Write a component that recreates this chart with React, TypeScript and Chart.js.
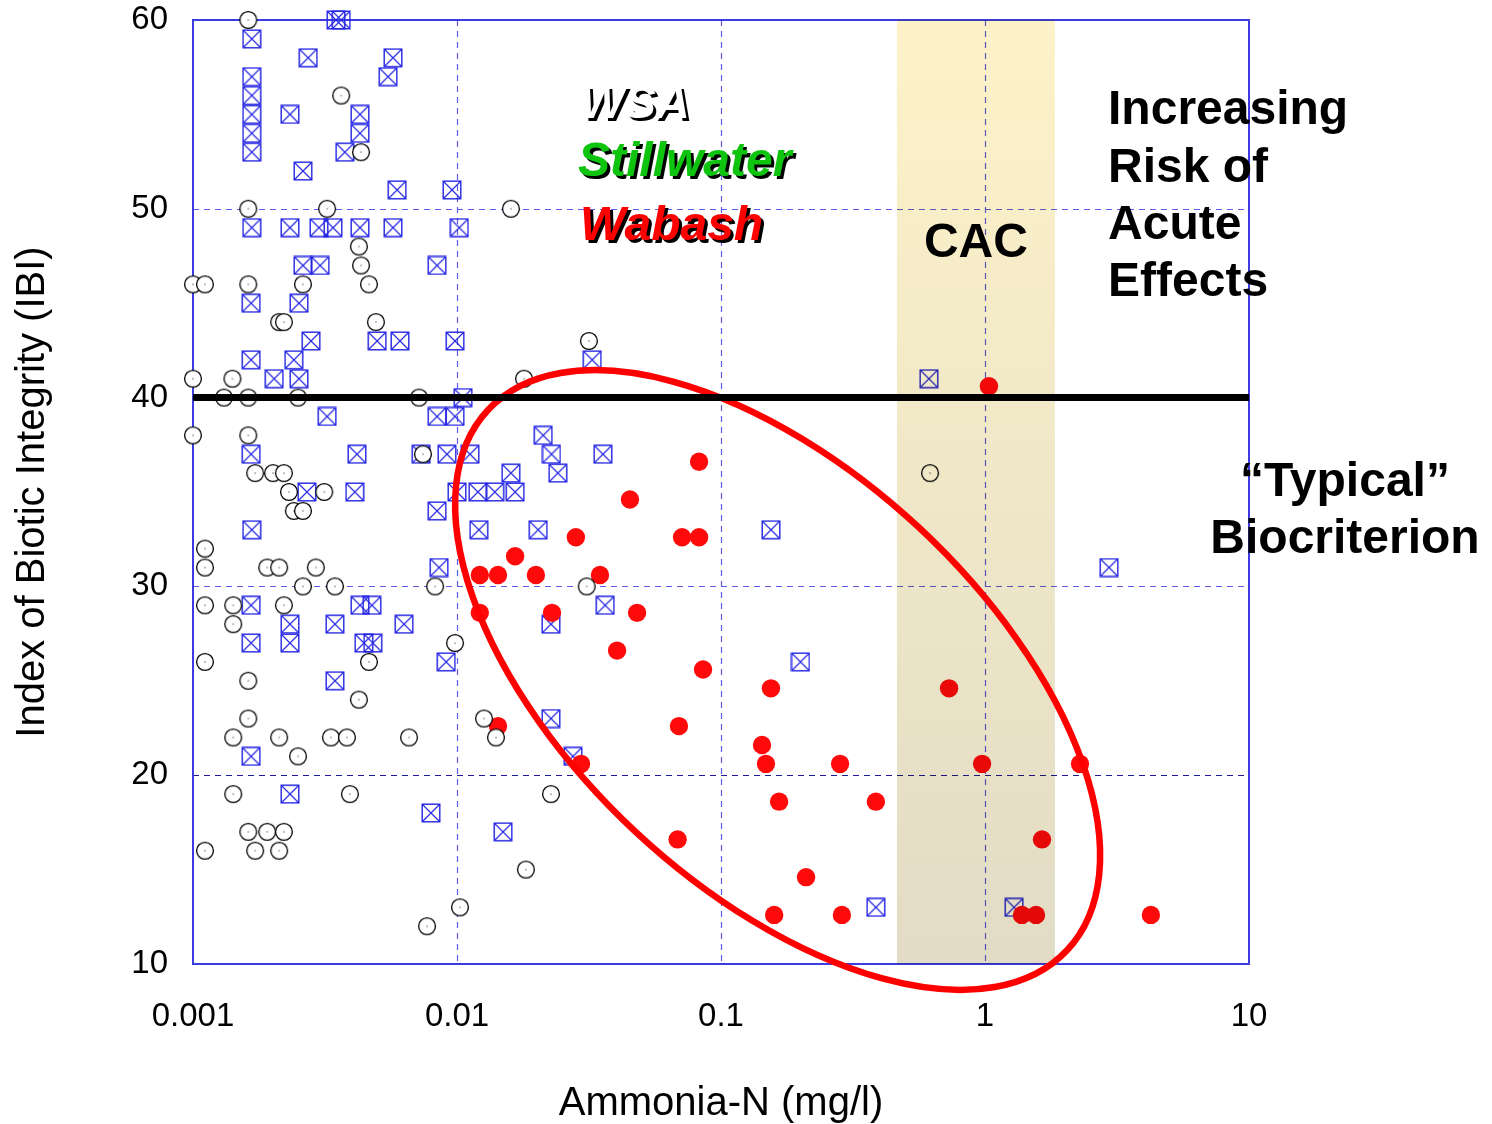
import React, { useEffect, useRef } from "react";
import { Chart, registerables } from "chart.js";
Chart.register(...registerables);

// ---- axes ----
const xTicks = [0.001, 0.01, 0.1, 1, 10];
const xTickLabels = ["0.001", "0.01", "0.1", "1", "10"];
const yTicks = [10, 20, 30, 40, 50, 60];

// ---- WSA (open circles) ----
const wsaX = [
  0.00162, 0.00364, 0.00433, 0.00162, 0.00322, 0.016, 0.00425, 0.00433, 0.001, 0.00111,
  0.00162, 0.00261, 0.00464, 0.00212, 0.00221, 0.00493, 0.0316, 0.001, 0.00141, 0.01794,
  0.00131, 0.00162, 0.0025, 0.00718, 0.001, 0.00162, 0.00743, 0.00172, 0.00201, 0.00221,
  0.619, 0.00231, 0.00314, 0.00241, 0.00261, 0.00111, 0.00111, 0.00191, 0.00212, 0.00292,
  0.00261, 0.00345, 0.00826, 0.031, 0.00111, 0.00142, 0.00221, 0.00142, 0.00983, 0.00111,
  0.00464, 0.00162, 0.00425, 0.00162, 0.01266, 0.00142, 0.00212, 0.00333, 0.00383, 0.00658,
  0.01405, 0.0025, 0.00142, 0.00393, 0.0227, 0.00162, 0.00191, 0.00221, 0.00111, 0.00172,
  0.00212, 0.01824, 0.01026, 0.0077,
];
const wsaY = [
  60, 56, 53, 50, 50, 50, 48, 47, 46, 46,
  46, 46, 46, 44, 44, 44, 43, 41, 41, 41,
  40, 40, 40, 40, 38, 38, 37, 36, 36, 36,
  36, 35, 35, 34, 34, 32, 31, 31, 31, 31,
  30, 30, 30, 30, 29, 29, 29, 28, 27, 26,
  26, 25, 24, 23, 23, 22, 22, 22, 22, 22,
  22, 21, 19, 19, 19, 17, 17, 17, 16, 16,
  16, 15, 13, 12,
];

// ---- Stillwater (crossed squares) ----
const stillX = [
  0.00348, 0.00364, 0.00167, 0.00273, 0.00572, 0.00167, 0.00548, 0.00167, 0.00167, 0.00233,
  0.00429, 0.00167, 0.00429, 0.00167, 0.00376, 0.00261, 0.00593, 0.00957, 0.00167, 0.00233,
  0.003, 0.00339, 0.00429, 0.00572, 0.0102, 0.00261, 0.00303, 0.0084, 0.00166, 0.00252,
  0.0028, 0.00498, 0.00608, 0.00983, 0.00166, 0.00241, 0.0325, 0.00203, 0.00252, 0.613,
  0.01054, 0.00322, 0.0084, 0.00983, 0.0212, 0.00166, 0.00418, 0.00731, 0.00916, 0.0112,
  0.0228, 0.0357, 0.016, 0.0241, 0.0027, 0.0041, 0.01, 0.012, 0.0139, 0.0166,
  0.0084, 0.00167, 0.0121, 0.0203, 0.1546, 0.00855, 2.95, 0.00166, 0.00429, 0.00476,
  0.0364, 0.00233, 0.00345, 0.0063, 0.0227, 0.00166, 0.00233, 0.00444, 0.0048, 0.0091,
  0.2, 0.00345, 0.0227, 0.00166, 0.0275, 0.00233, 0.00797, 0.01494, 0.386, 1.288,
];
const stillY = [
  60, 60, 59, 58, 58, 57, 57, 56, 55, 55,
  55, 54, 54, 53, 53, 52, 51, 51, 49, 49,
  49, 49, 49, 49, 49, 47, 47, 47, 45, 45,
  43, 43, 43, 43, 42, 42, 42, 41, 41, 41,
  40, 39, 39, 39, 38, 37, 37, 37, 37, 37,
  37, 37, 36, 36, 35, 35, 35, 35, 35, 35,
  34, 33, 33, 33, 33, 31, 31, 29, 29, 29,
  29, 28, 28, 28, 28, 27, 27, 27, 27, 26,
  26, 25, 23, 21, 21, 19, 18, 17, 13, 13,
];

// ---- Wabash (filled red) ----
const wabashX = [
  1.035, 0.0826, 0.0452, 0.0282, 0.0712, 0.0826, 0.0166, 0.0122, 0.0143, 0.0199,
  0.0348, 0.0122, 0.0229, 0.0481, 0.0404, 0.0855, 0.1546, 0.731, 0.0143, 0.0693,
  0.143, 0.0295, 0.148, 0.2825, 0.975, 2.29, 0.166, 0.386, 0.0685, 1.644,
  0.21, 0.159, 0.287, 1.38, 1.56, 4.25,
];
const wabashY = [
  40.6, 36.6, 34.6, 32.6, 32.6, 32.6, 31.6, 30.6, 30.6, 30.6,
  30.6, 28.6, 28.6, 28.6, 26.6, 25.6, 24.6, 24.6, 22.6, 22.6,
  21.6, 20.6, 20.6, 20.6, 20.6, 20.6, 18.6, 18.6, 16.6, 16.6,
  14.6, 12.6, 12.6, 12.6, 12.6, 12.6,
];

// ---- annotations ----
const cacRange = [0.464, 1.84];
const criterionValue = 40;
const ellipseEndA = [0.0131, 39.34];
const ellipseEndB = [2.05, 10.74];
const ellipseMinorRatio = 0.525;

const FONT = "'Liberation Sans', Arial, sans-serif";

function makeCircleImg(): HTMLCanvasElement {
  const c = document.createElement("canvas");
  c.width = 20;
  c.height = 20;
  const g = c.getContext("2d")!;
  g.fillStyle = "#ffffff";
  g.strokeStyle = "#000000";
  g.lineWidth = 1.3;
  g.beginPath();
  g.arc(10, 10, 8.4, 0, Math.PI * 2);
  g.fill();
  g.stroke();
  g.fillStyle = "#000000";
  g.fillRect(9.5, 9.5, 1, 1);
  return c;
}

function makeSquareImg(): HTMLCanvasElement {
  const c = document.createElement("canvas");
  c.width = 20;
  c.height = 20;
  const g = c.getContext("2d")!;
  g.strokeStyle = "#2424e4";
  g.lineWidth = 1.4;
  g.strokeRect(1.2, 1.2, 17.6, 17.6);
  g.lineWidth = 1.1;
  g.beginPath();
  g.moveTo(1.5, 1.5);
  g.lineTo(18.5, 18.5);
  g.moveTo(18.5, 1.5);
  g.lineTo(1.5, 18.5);
  g.stroke();
  return c;
}

const overlayPlugin = {
  id: "overlay",
  beforeDatasetsDraw(chart: any) {
    const { ctx, chartArea: a, scales } = chart;
    const xs = scales.x;
    const ys = scales.y;
    ctx.save();
    ctx.lineWidth = 1.2;
    ctx.setLineDash([6, 5]);
    for (const v of xTicks.slice(1, -1)) {
      const px = Math.round(xs.getPixelForValue(v)) + 0.5;
      ctx.strokeStyle = "#5c5ce8";
      ctx.beginPath();
      ctx.moveTo(px, a.top);
      ctx.lineTo(px, a.bottom);
      ctx.stroke();
    }
    for (const v of yTicks.slice(1, -1)) {
      const py = Math.round(ys.getPixelForValue(v)) + 0.5;
      ctx.strokeStyle = v === 20 ? "#1c1c96" : "#5c5ce8";
      ctx.beginPath();
      ctx.moveTo(a.left, py);
      ctx.lineTo(a.right, py);
      ctx.stroke();
    }
    ctx.setLineDash([]);
    ctx.strokeStyle = "#3c3ce0";
    ctx.lineWidth = 2;
    ctx.strokeRect(a.left, a.top, a.width, a.height);
    ctx.restore();
  },
  afterDatasetsDraw(chart: any) {
    const { ctx, chartArea: a, scales } = chart;
    const xs = scales.x;
    const ys = scales.y;
    const at = (fx: number, fy: number) => [a.left + fx * a.width, a.top + fy * a.height];

    // CAC band (multiply so marks below keep showing)
    const bx0 = xs.getPixelForValue(cacRange[0]);
    const bx1 = xs.getPixelForValue(cacRange[1]);
    ctx.save();
    ctx.globalCompositeOperation = "multiply";
    const grad = ctx.createLinearGradient(0, a.top, 0, a.bottom);
    grad.addColorStop(0, "#fdf2c8");
    grad.addColorStop(1, "#e2dcc6");
    ctx.fillStyle = grad;
    ctx.fillRect(bx0, a.top, bx1 - bx0, a.height);
    ctx.restore();

    // ellipse
    const p1x = xs.getPixelForValue(ellipseEndA[0]);
    const p1y = ys.getPixelForValue(ellipseEndA[1]);
    const p2x = xs.getPixelForValue(ellipseEndB[0]);
    const p2y = ys.getPixelForValue(ellipseEndB[1]);
    const cx = (p1x + p2x) / 2;
    const cy = (p1y + p2y) / 2;
    const ra = Math.hypot(p2x - p1x, p2y - p1y) / 2;
    const rot = Math.atan2(p2y - p1y, p2x - p1x);
    ctx.save();
    ctx.strokeStyle = "#ff0000";
    ctx.lineWidth = 6.5;
    ctx.beginPath();
    ctx.ellipse(cx, cy, ra, ra * ellipseMinorRatio, rot, 0, Math.PI * 2);
    ctx.stroke();
    ctx.restore();

    // criterion line
    const ly = ys.getPixelForValue(criterionValue);
    ctx.save();
    ctx.strokeStyle = "#000000";
    ctx.lineWidth = 7;
    ctx.beginPath();
    ctx.moveTo(a.left, ly);
    ctx.lineTo(a.right, ly);
    ctx.stroke();
    ctx.restore();

    // legend-like texts with shadow
    ctx.save();
    ctx.textBaseline = "alphabetic";
    ctx.textAlign = "left";
    ctx.shadowColor = "#000000";
    ctx.shadowOffsetX = 3;
    ctx.shadowOffsetY = 3;
    ctx.shadowBlur = 0;
    ctx.font = `italic bold 47px ${FONT}`;
    ctx.fillStyle = "#ffffff";
    let p = at(0.3665, 0.1038);
    ctx.fillText("WSA", p[0], p[1]);
    ctx.font = `italic bold 48px ${FONT}`;
    ctx.fillStyle = "#0fc40f";
    p = at(0.3646, 0.1653);
    ctx.fillText("Stillwater", p[0], p[1]);
    ctx.fillStyle = "#ff0000";
    p = at(0.3665, 0.2331);
    ctx.fillText("Wabash", p[0], p[1]);
    ctx.restore();

    ctx.save();
    ctx.fillStyle = "#000000";
    ctx.textBaseline = "alphabetic";
    ctx.font = `bold 48px ${FONT}`;
    ctx.textAlign = "center";
    ctx.fillText("CAC", (bx0 + bx1) / 2, at(0, 0.2511)[1]);
    ctx.textAlign = "left";
    const riskLines = ["Increasing", "Risk of", "Acute", "Effects"];
    const riskFy = [0.1102, 0.1716, 0.232, 0.2924];
    riskLines.forEach((t, i) => {
      const q = at(0.8665, riskFy[i]);
      ctx.fillText(t, q[0], q[1]);
    });
    ctx.textAlign = "center";
    const typLines = ["\u201CTypical\u201D", "Biocriterion"];
    const typFy = [0.5042, 0.5646];
    typLines.forEach((t, i) => {
      const q = at(1.0909, typFy[i]);
      ctx.fillText(t, q[0], q[1]);
    });
    ctx.restore();
  },
};

export default function App() {
  const ref = useRef<HTMLCanvasElement | null>(null);
  useEffect(() => {
    if (!ref.current) return;
    const circleImg = makeCircleImg();
    const squareImg = makeSquareImg();
    const chart = new Chart(ref.current, {
      type: "scatter",
      data: {
        datasets: [
          {
            label: "WSA",
            data: wsaX.map((x, i) => ({ x, y: wsaY[i] })),
            pointStyle: circleImg as any,
            pointRadius: 9,
            order: 0,
            clip: false as any,
          },
          {
            label: "Wabash",
            data: wabashX.map((x, i) => ({ x, y: wabashY[i] })),
            pointStyle: "circle",
            pointRadius: 9.2,
            pointBackgroundColor: "#ff0a0a",
            pointBorderWidth: 0,
            order: 1,
            clip: false as any,
          },
          {
            label: "Stillwater",
            data: stillX.map((x, i) => ({ x, y: stillY[i] })),
            pointStyle: squareImg as any,
            pointRadius: 9,
            order: 2,
            clip: false as any,
          },
        ],
      },
      options: {
        responsive: false,
        animation: false,
        devicePixelRatio: 1,
        events: [],
        layout: { padding: { left: 0, top: 20, right: 243, bottom: 0 } },
        plugins: { legend: { display: false }, tooltip: { enabled: false } },
        scales: {
          x: {
            type: "logarithmic",
            min: 0.001,
            max: 10,
            afterBuildTicks: (s: any) => {
              s.ticks = xTicks.map((v) => ({ value: v }));
            },
            afterFit: (s: any) => {
              s.height = 160;
              s.paddingLeft = 0;
              s.paddingRight = 0;
            },
            ticks: {
              autoSkip: false,
              maxRotation: 0,
              padding: 33,
              color: "#000000",
              font: { family: FONT, size: 33 },
              callback: (v: any) => {
                const i = xTicks.indexOf(Number(v));
                return i >= 0 ? xTickLabels[i] : "";
              },
            },
            grid: { display: false, drawTicks: false },
            border: { display: false },
            title: {
              display: true,
              text: "Ammonia-N (mg/l)",
              color: "#000000",
              font: { family: FONT, size: 40 },
              padding: { top: 0, bottom: -4 },
            },
          },
          y: {
            type: "linear",
            min: 10,
            max: 60,
            afterBuildTicks: (s: any) => {
              s.ticks = yTicks.map((v) => ({ value: v }));
            },
            afterFit: (s: any) => {
              s.width = 193;
              s.paddingTop = 0;
              s.paddingBottom = 0;
            },
            ticks: {
              padding: 25,
              color: "#000000",
              font: { family: FONT, size: 33 },
            },
            grid: { display: false, drawTicks: false },
            border: { display: false },
            title: {
              display: true,
              text: "Index of Biotic Integrity (IBI)",
              color: "#000000",
              font: { family: FONT, size: 40 },
              padding: { top: 9, bottom: 0 },
            },
          },
        },
      },
      plugins: [overlayPlugin],
    });
    return () => chart.destroy();
  }, []);

  return (
    <div style={{ position: "fixed", left: 0, top: 0, width: 1492, height: 1124, background: "#ffffff" }}>
      <canvas ref={ref} width={1492} height={1124} style={{ display: "block" }} />
    </div>
  );
}
